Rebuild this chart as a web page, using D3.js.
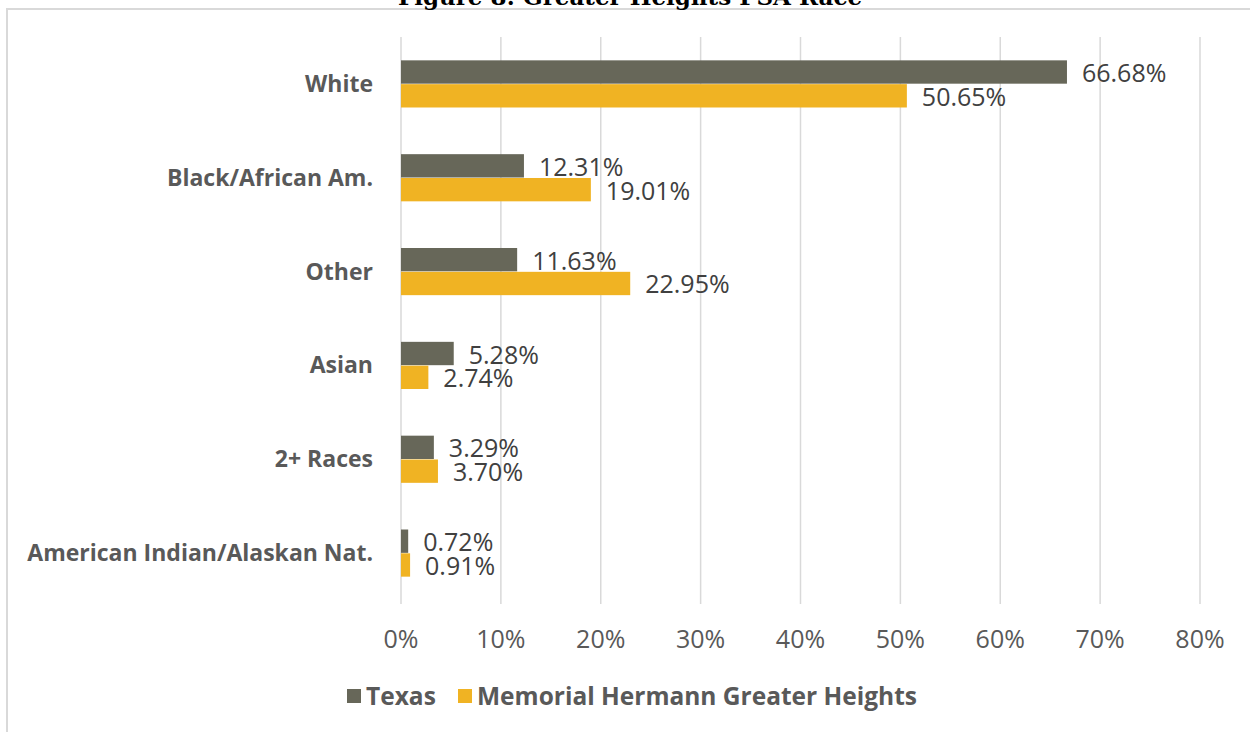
<!DOCTYPE html>
<html>
<head>
<meta charset="utf-8">
<script src="https://cdn.jsdelivr.net/npm/d3@7"></script>
<style>
  body { margin: 0; background: #fff; }
  svg { display: block; }
</style>
</head>
<body>
<script>
// categories, top to bottom
const categories = ["White", "Black/African Am.", "Other", "Asian", "2+ Races", "American Indian/Alaskan Nat."];
const seriesNames = ["Texas", "Memorial Hermann Greater Heights"];
const texasValues = [66.68, 12.31, 11.63, 5.28, 3.29, 0.72];
const mhValues = [50.65, 19.01, 22.95, 2.74, 3.70, 0.91];
const xTicks = [0, 10, 20, 30, 40, 50, 60, 70, 80];

const width = 1250, height = 732;
const colors = ["#676759", "#F0B323"];
const font = "'Open Sans', 'Noto Sans', sans-serif";

const svg = d3.select("body").append("svg")
    .attr("width", width)
    .attr("height", height);

// frame (cut off on top/right)
svg.append("line").attr("x1", 6).attr("x2", width).attr("y1", 9).attr("y2", 9)
    .attr("stroke", "#d9d9d9").attr("stroke-width", 2);
svg.append("line").attr("x1", 7).attr("x2", 7).attr("y1", 8).attr("y2", height)
    .attr("stroke", "#d9d9d9").attr("stroke-width", 2);

// title, mostly cropped
svg.append("text")
    .attr("x", 630).attr("y", 5)
    .attr("text-anchor", "middle")
    .style("font-family", "'DejaVu Serif', 'Liberation Serif', serif")
    .style("font-weight", "bold")
    .style("font-size", "23px")
    .attr("fill", "#000")
    .text("Figure 8: Greater Heights PSA Race");

const x = d3.scaleLinear().domain([0, 80]).range([401, 1200]);
const y = d3.scaleBand().domain(categories).range([37, 600]);
const inner = d3.scaleBand().domain(seriesNames).range([0, y.bandwidth()]).paddingInner(0.02).paddingOuter(0.98);

// gridlines
svg.append("g").selectAll("line")
    .data(xTicks)
    .enter().append("line")
    .attr("x1", d => x(d)).attr("x2", d => x(d))
    .attr("y1", 37).attr("y2", 604)
    .attr("stroke", "#d9d9d9").attr("stroke-width", 1.5);

// tick labels
svg.append("g").selectAll("text")
    .data(xTicks)
    .enter().append("text")
    .attr("x", d => x(d)).attr("y", 648)
    .attr("text-anchor", "middle")
    .style("font-family", font).style("font-size", "25px")
    .attr("fill", "#595959")
    .text(d => d + "%");

// category labels
svg.append("g").selectAll("text")
    .data(categories)
    .enter().append("text")
    .attr("x", 373).attr("y", d => y(d) + y.bandwidth() / 2 + 8)
    .attr("text-anchor", "end")
    .style("font-family", font).style("font-size", "23px").style("font-weight", "bold")
    .attr("fill", "#595959")
    .text(d => d);

const series = [texasValues, mhValues];
series.forEach(function (vals, si) {
    const g = svg.append("g");
    g.selectAll("rect")
        .data(vals)
        .enter().append("rect")
        .attr("x", x(0))
        .attr("y", (d, i) => y(categories[i]) + inner(seriesNames[si]))
        .attr("width", d => x(d) - x(0))
        .attr("height", inner.bandwidth())
        .attr("fill", colors[si]);

    g.selectAll("text")
        .data(vals)
        .enter().append("text")
        .attr("x", d => x(d) + 15)
        .attr("y", (d, i) => y(categories[i]) + inner(seriesNames[si]) + inner.bandwidth() / 2 + 10)
        .style("font-family", font).style("font-size", "25px")
        .attr("fill", "#404040")
        .text(d => d.toFixed(2) + "%");
});

// legend
const legendX = [347, 458];
const legend = svg.append("g").selectAll("g")
    .data(seriesNames)
    .enter().append("g")
    .attr("transform", (d, i) => "translate(" + legendX[i] + ",689)");
legend.append("rect")
    .attr("width", 14).attr("height", 14)
    .attr("fill", (d, i) => colors[i]);
legend.append("text")
    .attr("x", 19).attr("y", 16)
    .style("font-family", font).style("font-size", "24.5px").style("font-weight", "bold")
    .attr("fill", "#595959")
    .text(d => d);
</script>
</body>
</html>
